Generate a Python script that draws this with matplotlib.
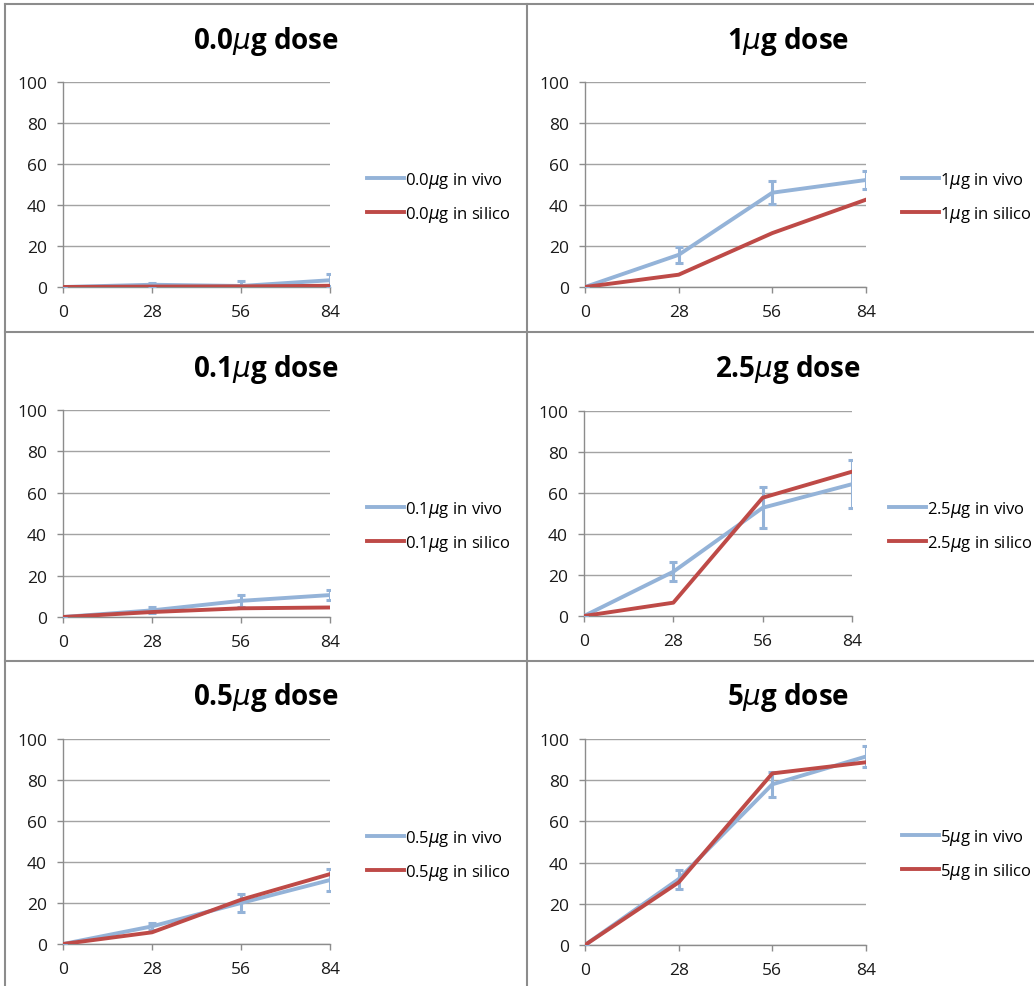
import numpy as np
import matplotlib
matplotlib.use("Agg")
import matplotlib.pyplot as plt
from matplotlib.lines import Line2D

plt.rcParams['font.family'] = ['Open Sans', 'DejaVu Sans']
plt.rcParams['mathtext.fontset'] = 'dejavusans'

# days on the x axis
days = [0, 28, 56, 84]
doses = ['0.0', '1', '0.1', '2.5', '0.5', '5']

# in vivo means and error
vivo = {
    '0.0': [0, 1.1, 0.5, 3.3],
    '1':   [0, 15.7, 46.0, 52.2],
    '0.1': [0, 3.2, 7.8, 10.6],
    '2.5': [0, 21.6, 52.8, 64.3],
    '0.5': [0, 8.6, 20.0, 31.2],
    '5':   [0, 32.0, 78.0, 91.5],
}
vivo_err = {
    '0.0': [0, 0.8, 2.2, 3.0],
    '1':   [0, 3.8, 5.7, 4.5],
    '0.1': [0, 1.4, 2.8, 2.3],
    '2.5': [0, 4.5, 10.0, 11.8],
    '0.5': [0, 1.8, 4.2, 5.2],
    '5':   [0, 4.6, 6.0, 4.9],
}
# in silico model
silico = {
    '0.0': [0, 0.2, 0.3, 0.6],
    '1':   [0, 6.0, 26.3, 42.6],
    '0.1': [0, 2.4, 4.2, 4.6],
    '2.5': [0, 6.5, 57.7, 70.4],
    '0.5': [0, 5.7, 21.6, 34.1],
    '5':   [0, 30.4, 83.3, 88.7],
}

W, H = 1034, 987
blue = '#94B3D8'
red = '#BE4A47'
grid_c = '#A3A3A3'

# axes boxes in pixels: left, right, top(y=100), bottom(y=0)
boxes = [
    (63, 330, 83, 288),
    (585, 866, 83, 288),
    (63, 330, 411, 618),
    (584, 852, 412, 617),
    (63, 330, 740, 945),
    (585, 866, 740, 946),
]
# title centres and legend spots (pixels)
title_xy = [(266, 42), (788, 42), (266, 370), (788, 370), (266, 698), (788, 698)]
legend_xy = [(367, 198), (902, 198), (367, 527), (889, 527), (367, 856), (902, 855)]

fig = plt.figure(figsize=(W / 100, H / 100), dpi=100)

for i, d in enumerate(doses):
    l, r, t, b = boxes[i]
    ax = fig.add_axes([l / W, 1 - b / H, (r - l) / W, (b - t) / H])
    ax.errorbar(days, vivo[d], yerr=vivo_err[d], color=blue, lw=2.8,
                elinewidth=2.2, capsize=2.6, capthick=2.2, zorder=3,
                label=d + r'$\mu$g in vivo')
    ax.plot(days, silico[d], color=red, lw=2.8, zorder=4,
            label=d + r'$\mu$g in silico')
    ax.set_xlim(0, 84)
    ax.set_ylim(0, 100)
    ax.set_xticks(days)
    ax.set_yticks(np.arange(0, 101, 20))
    ax.grid(axis='y', color=grid_c, lw=1.0)
    ax.set_axisbelow(True)
    for s in ['top', 'right']:
        ax.spines[s].set_visible(False)
    for s in ['left', 'bottom']:
        ax.spines[s].set_color('#8C8C8C')
        ax.spines[s].set_linewidth(1.0)
    ax.tick_params(axis='both', colors='#8C8C8C', labelcolor='#1A1A1A',
                   labelsize=12.5, length=4.5, width=1.0)
    ax.tick_params(axis='y', pad=7)
    ax.tick_params(axis='x', pad=8)
    for lab in ax.get_xticklabels():
        lab.set_clip_on(False)

    tx, ty = title_xy[i]
    fig.text(tx / W, 1 - ty / H, d + r'$\mu$g dose', ha='center', va='center',
             fontsize=20, fontweight='bold')

    handles = [Line2D([], [], color=blue, lw=2.8), Line2D([], [], color=red, lw=2.8)]
    labels = [d + r'$\mu$g in vivo', d + r'$\mu$g in silico']
    lx, ly = legend_xy[i]
    fig.legend(handles, labels, loc='center left',
               bbox_to_anchor=(lx / W, 1 - ly / H), frameon=False,
               fontsize=12, handlelength=2.2, handletextpad=0.1,
               labelspacing=0.85, borderpad=0, borderaxespad=0)

# panel borders
border = '#8C8C8C'
fig.add_artist(Line2D([5 / W, 5 / W], [0, 1 - 5 / H], color=border, lw=1.5))
fig.add_artist(Line2D([5 / W, 1], [1 - 5 / H, 1 - 5 / H], color=border, lw=1.5))
fig.add_artist(Line2D([527 / W, 527 / W], [0, 1 - 5 / H], color=border, lw=1.5))
fig.add_artist(Line2D([5 / W, 1], [1 - 333 / H, 1 - 333 / H], color=border, lw=1.5))
fig.add_artist(Line2D([5 / W, 1], [1 - 662 / H, 1 - 662 / H], color=border, lw=1.5))

fig.savefig('out.png', dpi=100)
